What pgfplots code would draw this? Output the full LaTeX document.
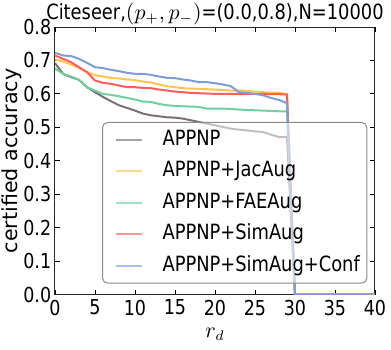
\documentclass[border=0pt]{standalone}
\usepackage{fontspec}
\setmainfont{DejaVu Sans}[FakeStretch=0.85]
\newfontfamily\ylabfont{DejaVu Sans}
\usepackage{pgfplots}
\usepackage{pgfplotstable}
\pgfplotsset{compat=1.18}

\definecolor{cGray}{RGB}{122,112,116}
\definecolor{cYellow}{RGB}{255,196,80}
\definecolor{cGreen}{RGB}{112,208,158}
\definecolor{cRed}{RGB}{255,92,92}
\definecolor{cBlue}{RGB}{126,156,214}

% r_d, APPNP, +JacAug, +FAEAug, +SimAug, +SimAug+Conf
\pgfplotstableread{
x  appnp  jac    fae    sim    conf
0  0.692  0.703  0.676  0.715  0.723
1  0.660  0.697  0.660  0.705  0.715
2  0.650  0.688  0.652  0.695  0.713
3  0.642  0.678  0.642  0.680  0.705
4  0.620  0.665  0.620  0.665  0.693
5  0.605  0.656  0.610  0.640  0.680
6  0.591  0.652  0.600  0.633  0.677
7  0.578  0.648  0.597  0.630  0.672
8  0.566  0.646  0.593  0.625  0.668
9  0.558  0.643  0.588  0.620  0.663
10 0.550  0.641  0.583  0.620  0.660
11 0.541  0.637  0.577  0.618  0.660
12 0.536  0.634  0.576  0.617  0.657
13 0.533  0.628  0.570  0.613  0.652
14 0.530  0.623  0.566  0.610  0.648
15 0.529  0.620  0.564  0.607  0.647
16 0.526  0.617  0.563  0.605  0.643
17 0.521  0.616  0.562  0.603  0.640
18 0.516  0.615  0.561  0.602  0.635
19 0.511  0.614  0.556  0.601  0.635
20 0.506  0.613  0.556  0.600  0.632
21 0.501  0.612  0.556  0.600  0.628
22 0.496  0.610  0.555  0.600  0.623
23 0.493  0.610  0.553  0.600  0.605
24 0.491  0.609  0.552  0.600  0.603
25 0.488  0.607  0.551  0.600  0.600
26 0.486  0.605  0.550  0.600  0.596
27 0.478  0.604  0.549  0.599  0.588
28 0.471  0.603  0.548  0.599  0.582
29 0.471  0.600  0.548  0.598  0.572
30 0.000  0.000  0.000  0.000  0.000
40 0.000  0.000  0.000  0.000  0.000
}\certdata

\begin{document}
\begin{tikzpicture}
\begin{axis}[
    scale only axis,
    width=160pt, height=133.75pt,
    xmin=0, xmax=40, ymin=0, ymax=0.8,
    xtick={0,5,10,15,20,25,30,35,40},
    ytick={0,0.1,0.2,0.3,0.4,0.5,0.6,0.7,0.8},
    /pgf/number format/assume math mode=true,
    tick label style={font=\fontsize{10.3}{12}\selectfont},
    xticklabel style={inner sep=2.5pt},
    yticklabel style={inner sep=1.7pt, /pgf/number format/.cd, fixed, fixed zerofill, precision=1},
    major tick length=2.5pt,
    tick style={black, line width=0.4pt},
    axis line style={black!85, line width=0.5pt},
    title={Citeseer,$(p_+,p_-)$=(0.0,0.8),N=10000},
    every axis title shift/.style={yshift=0pt},
    title style={at={(axis description cs:0.5,1)}, anchor=base,
                 yshift=-2.2pt, inner sep=0pt, font=\fontsize{10.5}{12}\selectfont},
    xlabel={$r_d$},
    xlabel style={at={(axis description cs:0.5,0)}, anchor=base,
                  yshift=-21.5pt, inner sep=0pt, font=\fontsize{10.5}{12}\selectfont},
    ylabel={certified accuracy},
    ylabel style={at={(axis description cs:-0.134,0.5)}, anchor=center,
                  inner sep=0pt, font=\ylabfont\fontsize{10.3}{12}\selectfont},
    every axis plot/.append style={line width=1pt, sharp plot, no marks},
    legend cell align=left,
    legend image code/.code={\path (0pt,0pt); \draw[#1] (2.5pt,0pt) -- (15.5pt,0pt);},
    legend image post style={opacity=0.65, line width=1pt},
    legend style={at={(axis description cs:0.147,0.645)}, anchor=north west,
                  draw=black!45, rounded corners=2.5pt, line width=0.5pt,
                  fill=white, fill opacity=0.55, text opacity=1, draw opacity=1,
                  font=\fontsize{10.5}{12}\selectfont,
                  inner xsep=3.5pt, inner ysep=3.5pt,
                  column sep=10pt, row sep=5.2pt,
                  nodes={inner sep=0pt, text height=8pt, text depth=2.5pt}},
]
\addplot[cGray]   table[x=x, y=appnp] {\certdata};
\addplot[cYellow] table[x=x, y=jac]   {\certdata};
\addplot[cGreen]  table[x=x, y=fae]   {\certdata};
\addplot[cRed]    table[x=x, y=sim]   {\certdata};
\addplot[cBlue]   table[x=x, y=conf]  {\certdata};
\legend{APPNP, APPNP+JacAug, APPNP+FAEAug, APPNP+SimAug, APPNP+SimAug+Conf}
\end{axis}
\pgfresetboundingbox
\path (-27.5pt,-27.25pt) rectangle (168pt,147.25pt);
\end{tikzpicture}
\end{document}
